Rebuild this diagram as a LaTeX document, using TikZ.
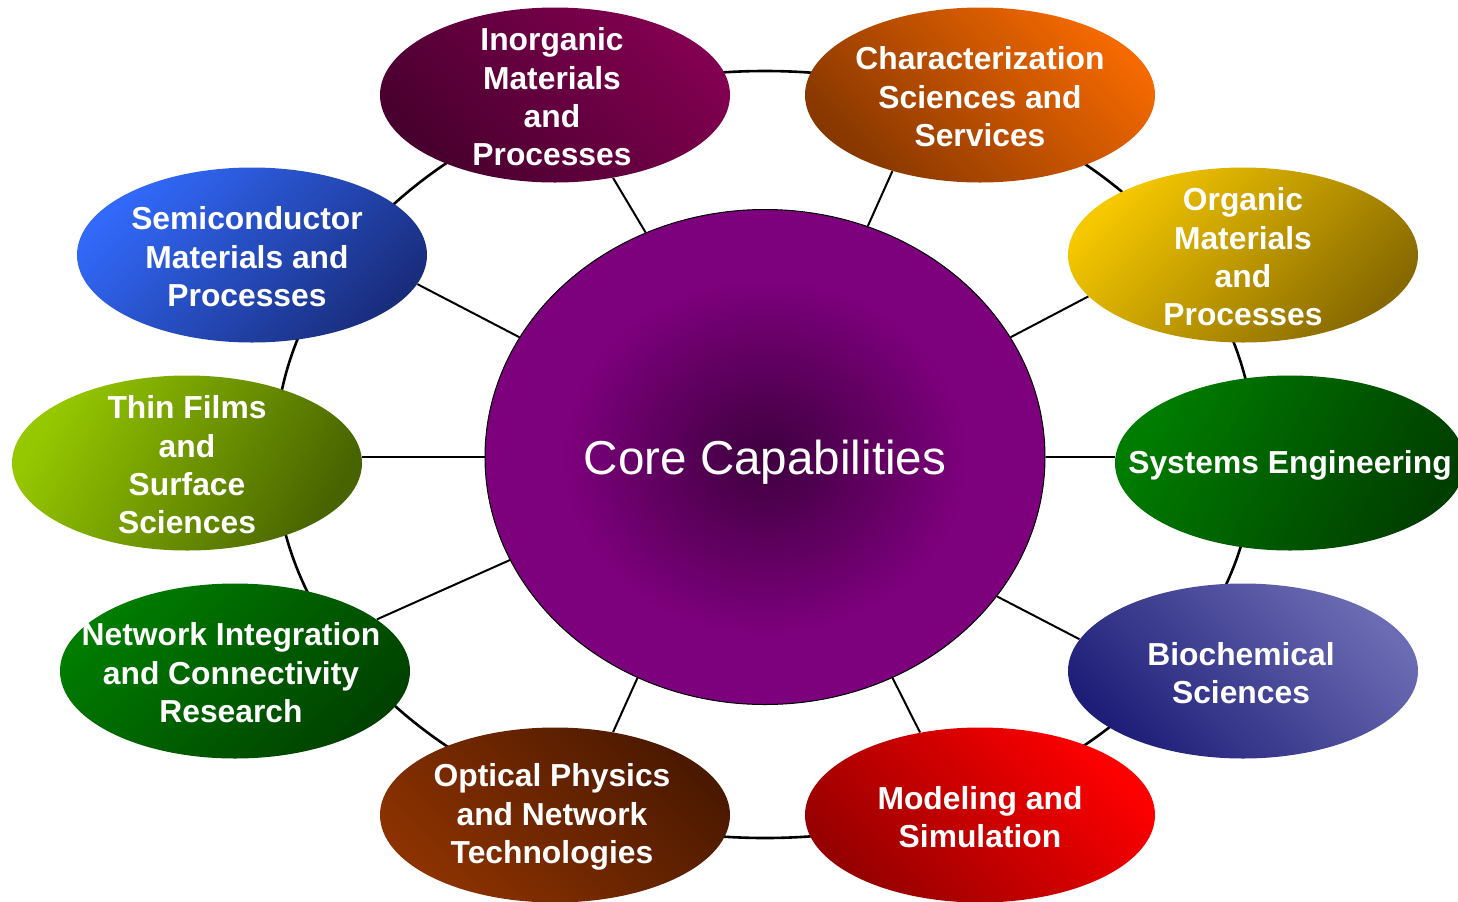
\documentclass[tikz,border=0pt]{standalone}
\usepackage{fontspec}
\setmainfont{Liberation Sans}
\usetikzlibrary{shapes.geometric}

% palette
\definecolor{coredark}{RGB}{62,0,62}
\definecolor{corepurple}{RGB}{125,0,125}
\definecolor{inorgL}{RGB}{130,0,80}
\definecolor{inorgD}{RGB}{72,0,46}
\definecolor{charL}{RGB}{245,105,0}
\definecolor{charD}{RGB}{135,55,0}
\definecolor{orgL}{RGB}{245,200,0}
\definecolor{orgD}{RGB}{135,105,0}
\definecolor{sysL}{RGB}{0,125,0}
\definecolor{sysD}{RGB}{0,62,0}
\definecolor{bioL}{RGB}{108,108,180}
\definecolor{bioM}{RGB}{95,95,172}
\definecolor{bioD}{RGB}{30,30,120}
\definecolor{modL}{RGB}{255,0,0}
\definecolor{modD}{RGB}{150,0,0}
\definecolor{optL}{RGB}{140,50,0}
\definecolor{optD}{RGB}{75,25,0}
\definecolor{netL}{RGB}{0,125,0}
\definecolor{netD}{RGB}{0,65,0}
\definecolor{thinL}{RGB}{150,200,0}
\definecolor{thinD}{RGB}{72,100,0}
\definecolor{semiL}{RGB}{50,105,250}
\definecolor{semiD}{RGB}{25,45,125}

% dark glow in the middle of the core disc
\pgfdeclareradialshading{coreglow}{\pgfpointorigin}{%
  color(0bp)=(coredark); color(18bp)=(corepurple); color(50bp)=(corepurple)}

\begin{document}
\begin{tikzpicture}[x=0.5pt,y=0.5pt,
  capsule/.style={ellipse, minimum width=175pt, minimum height=87.5pt,
    inner sep=0pt},
  caption/.style={inner sep=0pt, text=white, align=center, yshift=-1pt,
    font=\fontsize{15.9}{19.2}\selectfont\bfseries},
  shade2/.style n args={3}{top color=#1, bottom color=#2, shading angle=#3},
  link/.style={line width=1pt, black},
  ringline/.style={line width=1.3pt, black}]

\useasboundingbox (0,0) rectangle (1458,-901);
\clip (0,0) rectangle (1458,-901);

% outer ring joining the satellites
\draw[ringline] (765,-454.5) ellipse [x radius=490, y radius=383.5];

% central disc
\node[ellipse, minimum width=280pt, minimum height=247.5pt, inner sep=0pt,
      shading=coreglow, draw=black, line width=0.5pt] (core) at (765,-457) {};
\node[inner sep=0pt, text=white, yshift=-2.5pt,
      font=\fontsize{23.8}{28}\selectfont] (core-t) at (core) {Core Capabilities};

% satellites
\node[capsule, shade2={inorgL}{inorgD}{-45}] (inorg) at (555,-95) {};
\node[capsule, shade2={charL}{charD}{-45}] (char) at (980,-95) {};
\node[capsule, shade2={orgL}{orgD}{45}] (org) at (1243,-255) {};
\node[capsule, shade2={sysL}{sysD}{60}] (sys) at (1290,-463) {};
\node[capsule, top color=bioL, middle color=bioM, bottom color=bioD, shading angle=-45] (bio) at (1243,-671) {};
\node[capsule, shade2={modL}{modD}{-45}] (mod) at (980,-815) {};
\node[capsule, shade2={optL}{optD}{135}] (opt) at (555,-815) {};
\node[capsule, shade2={netL}{netD}{45}] (net) at (235,-671) {};
\node[capsule, shade2={thinL}{thinD}{60}] (thin) at (187,-463) {};
\node[capsule, shade2={semiL}{semiD}{45}] (semi) at (252,-255) {};

% satellite captions
\node[caption, xshift=-1.5pt] (inorg-t) at (inorg) {Inorganic\\Materials\\and\\Processes};
\node[caption] (char-t) at (char) {Characterization\\Sciences and\\Services};
\node[caption] (org-t) at (org) {Organic\\Materials\\and\\Processes};
\node[caption] (sys-t) at (sys) {Systems Engineering};
\node[caption, xshift=-1pt] (bio-t) at (bio) {Biochemical\\Sciences};
\node[caption] (mod-t) at (mod) {Modeling and\\Simulation};
\node[caption, xshift=-1.5pt] (opt-t) at (opt) {Optical Physics\\and Network\\Technologies};
\node[caption, xshift=-2pt] (net-t) at (net) {Network Integration\\and Connectivity\\Research};
\node[caption] (thin-t) at (thin) {Thin Films\\and\\Surface\\Sciences};
\node[caption, xshift=-2.5pt] (semi-t) at (semi) {Semiconductor\\Materials and\\Processes};

% spokes
\draw[link] (core.118.6) -- (inorg.-55);
\draw[link] (core.66.4) -- (char.221.5);
\draw[link] (core.26.8) -- (org.195.7);
\draw[link] (core.east) -- (core.east -| sys.west);
\draw[link] (core.-31) -- (bio.169.2);
\draw[link] (core.-60.9) -- (mod.126.2);
\draw[link] (core.240.5) -- (opt.55.2);
\draw[link] (core.202) -- (net.20.3);
\draw[link] (core.west) -- (core.west -| thin.east);
\draw[link] (core.154.1) -- (semi.-10.3);
\end{tikzpicture}
\end{document}
